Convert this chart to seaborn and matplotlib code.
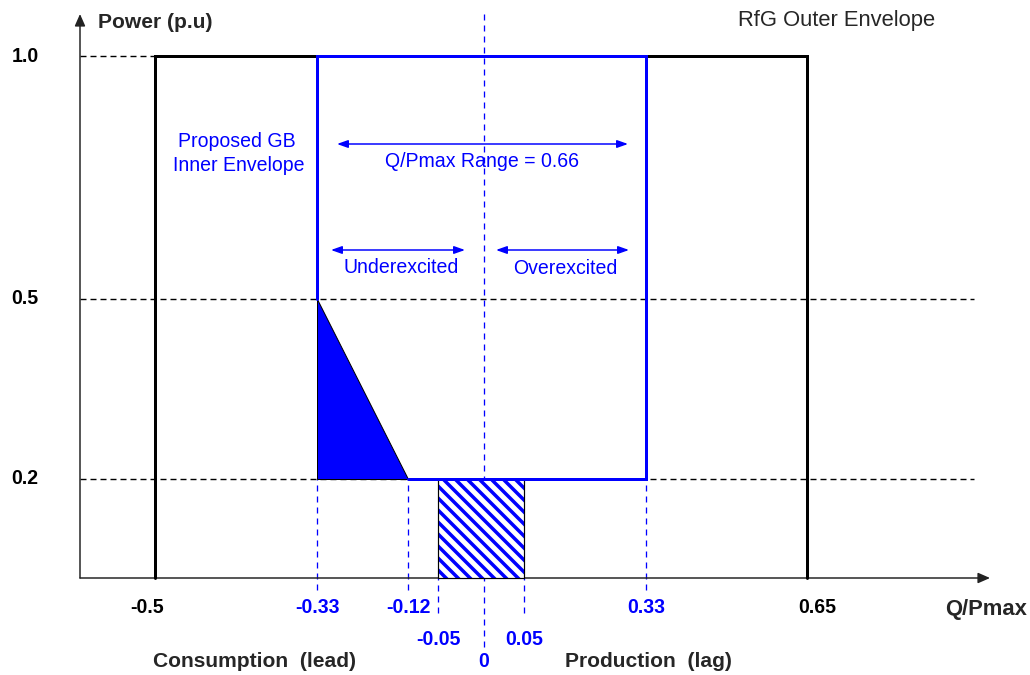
import numpy as np
import matplotlib.pyplot as plt
import seaborn as sns

# reactive capability envelopes (Q/Pmax vs Power p.u)
outer_q = [-0.5, -0.5, 0.65, 0.65]
outer_p = [0.0, 1.0, 1.0, 0.0]
inner_q = [-0.33, -0.33, 0.33, 0.33, -0.12]
inner_p = [0.5, 1.0, 1.0, 0.2, 0.2]
lead_tri_q = [-0.33, -0.33, -0.12]
lead_tri_p = [0.5, 0.2, 0.2]
deadband_q = [-0.05, 0.05]
deadband_p = [0.0, 0.2]
power_ticks = [1.0, 0.5, 0.2]
q_ticks = [-0.5, -0.33, -0.12, 0.33, 0.65]
q_ticks_inner = [-0.05, 0.05]
q_range = 0.66

W, H, DPI = 1030, 675, 72
BLUE = "#0000ff"

# schematic (not to scale) axes: value -> figure pixel, piecewise linear
X_VAL = [-1.0, -0.6, -0.5, -0.33, -0.12, -0.05, 0.0, 0.05, 0.33, 0.65, 1.0, 1.2]
X_PX = [0, 80, 155, 317, 408, 438, 484, 524, 646, 807, 990, 1030]
Y_VAL = [-0.2, 0.0, 0.2, 0.5, 1.0, 1.12]
Y_PX = [0, 97, 196, 376, 619, 675]
Q0, Q1, P_TOP = -0.6, 1.0, 1.09


def fwd_x(v):
    return np.interp(v, X_VAL, X_PX)


def inv_x(p):
    return np.interp(p, X_PX, X_VAL)


def fwd_y(v):
    return np.interp(v, Y_VAL, Y_PX)


def inv_y(p):
    return np.interp(p, Y_PX, Y_VAL)


def fpx(x, y):
    # top-left pixel -> 'figure pixels'
    return (x, H - y)


sns.set_theme(style="white")
plt.rcParams["font.family"] = ["Liberation Sans", "DejaVu Sans"]
plt.rcParams["hatch.linewidth"] = 3.5
plt.rcParams["lines.scale_dashes"] = False

fig = plt.figure(figsize=(W / DPI, H / DPI), dpi=DPI)
ax = fig.add_axes([0, 0, 1, 1])
ax.set_xscale("function", functions=(fwd_x, inv_x))
ax.set_yscale("function", functions=(fwd_y, inv_y))

dash_k = dict(color="black", lw=1.4, ls=(0, (6, 4)), zorder=1)
dash_b = dict(color=BLUE, lw=1.3, ls=(0, (6, 5)), zorder=1)

# guide lines
ax.plot([Q0, outer_q[0]], [1.0, 1.0], **dash_k)
for p in [0.5, 0.2]:
    ax.plot([Q0, 0.97], [p, p], **dash_k)
ax.plot([0, 0], [-0.142, P_TOP], **dash_b)
for q in [-0.33, -0.12, 0.33]:
    ax.plot([q, q], [-0.025, 0.2], **dash_b)
for q in q_ticks_inner:
    ax.plot([q, q], [-0.072, 0.0], **dash_b)

# axes with arrows
ax.annotate("", xy=(Q1, 0), xytext=(Q0, 0),
            arrowprops=dict(arrowstyle="-|>,head_length=0.5,head_width=0.22",
                            color="#222222", lw=1.5, shrinkA=0, shrinkB=0,
                            mutation_scale=20))
ax.annotate("", xy=(Q0, P_TOP), xytext=(Q0, 0),
            arrowprops=dict(arrowstyle="-|>,head_length=0.5,head_width=0.22",
                            color="#222222", lw=1.5, shrinkA=0, shrinkB=0,
                            mutation_scale=20))

# envelopes
sns.lineplot(x=outer_q, y=outer_p, sort=False, estimator=None, color="black",
             lw=3, ax=ax, zorder=3, solid_joinstyle="miter")
ax.fill(lead_tri_q, lead_tri_p, facecolor=BLUE, edgecolor="black", lw=1, zorder=4)
sq_q = [deadband_q[0], deadband_q[1], deadband_q[1], deadband_q[0]]
sq_p = [deadband_p[0], deadband_p[0], deadband_p[1], deadband_p[1]]
ax.fill(sq_q, sq_p, facecolor="white", edgecolor=BLUE, hatch="\\\\", lw=0, zorder=4)
ax.fill(sq_q, sq_p, facecolor="none", edgecolor="black", lw=1.2, zorder=4)
sns.lineplot(x=inner_q, y=inner_p, sort=False, estimator=None, color=BLUE,
             lw=3, ax=ax, zorder=5, solid_joinstyle="miter")

ax.set_xlim(X_VAL[0], X_VAL[-1])
ax.set_ylim(Y_VAL[0], Y_VAL[-1])
ax.axis("off")

# tick labels
tk = dict(fontsize=19.5, fontweight="bold", textcoords="offset pixels",
          annotation_clip=False)
for p in power_ticks:
    ax.annotate(f"{p:.1f}", xy=(Q0, p), xytext=(-55, 0), ha="center",
                va="center", color="black", **tk)
q_dx = {-0.5: -8, 0.65: 10}
for q in q_ticks:
    col = "black" if q in (-0.5, 0.65) else BLUE
    ax.annotate(f"{q:g}", xy=(q, 0), xytext=(q_dx.get(q, 0), -35), ha="center",
                va="baseline", color=col, **tk)
for q in q_ticks_inner:
    ax.annotate(f"{q:g}", xy=(q, 0), xytext=(0, -67), ha="center",
                va="baseline", color=BLUE, **tk)
ax.annotate("0", xy=(0, 0), xytext=(0, -89), ha="center", va="baseline",
            color=BLUE, **tk)

# axis titles and notes
lab = dict(xycoords="figure pixels", annotation_clip=False, va="baseline")
ax.annotate("Power (p.u)", xy=fpx(98, 28), fontsize=21, fontweight="bold", **lab)
ax.annotate("RfG Outer Envelope", xy=fpx(738, 26), fontsize=22, **lab)
ax.annotate("Q/Pmax", xy=fpx(945, 615), fontsize=22, fontweight="bold", **lab)
ax.annotate("Consumption  (lead)", xy=fpx(153, 667), fontsize=21,
            fontweight="bold", **lab)
ax.annotate("Production  (lag)", xy=fpx(565, 667), fontsize=21,
            fontweight="bold", **lab)

bl = dict(fontsize=19.5, color=BLUE, ha="center", **lab)
ax.annotate("Proposed GB", xy=fpx(237, 147), **bl)
ax.annotate("Inner Envelope", xy=fpx(239, 171), **bl)
ax.annotate(f"Q/Pmax Range = {q_range:.2f}", xy=fpx(482, 167), **bl)
ax.annotate("Underexcited", xy=fpx(401, 273), **bl)
ax.annotate("Overexcited", xy=fpx(565, 274), **bl)

arr = dict(arrowstyle="<|-|>,head_length=0.45,head_width=0.16", color=BLUE,
           lw=1.5, shrinkA=0, shrinkB=0, mutation_scale=20)
for x0, x1, y in [(337, 628, 144), (331, 465, 250), (496, 629, 250)]:
    ax.annotate("", xy=fpx(x1, y), xytext=fpx(x0, y), xycoords="figure pixels",
                textcoords="figure pixels", arrowprops=arr)

fig.savefig("out.png", dpi=DPI)
